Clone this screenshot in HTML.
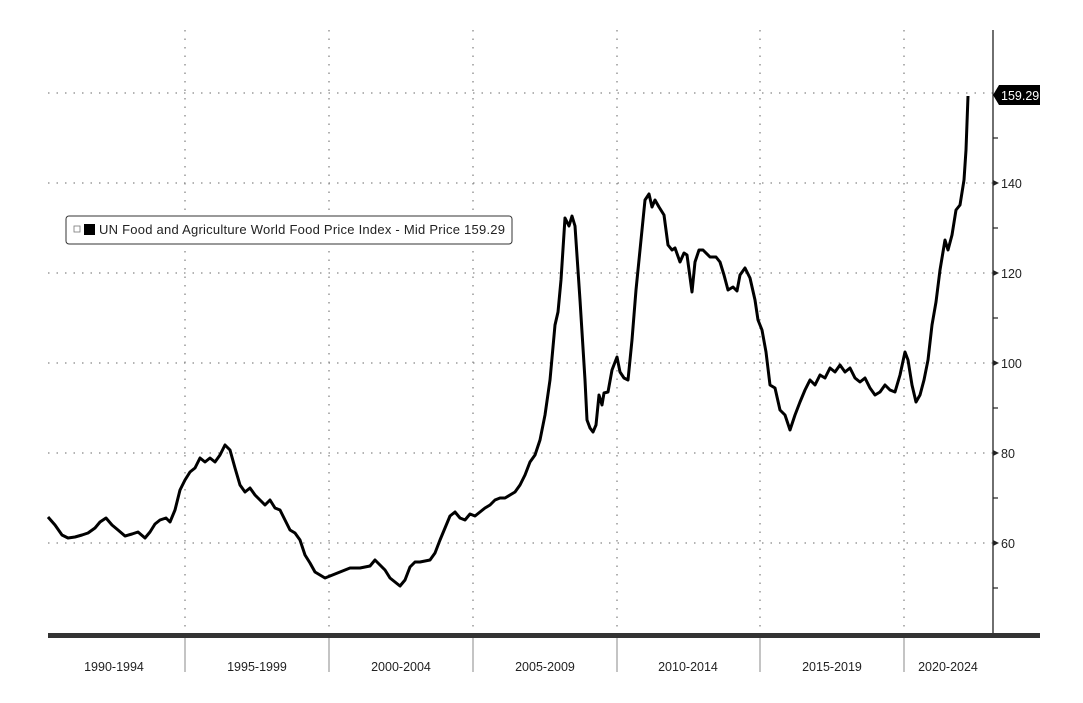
<!DOCTYPE html>
<html><head><meta charset="utf-8"><style>
html,body{margin:0;padding:0;background:#fff;}
svg{display:block;font-family:"Liberation Sans",sans-serif;}
</style></head><body>
<svg width="1083" height="703" viewBox="0 0 1083 703">
<rect width="1083" height="703" fill="#fff"/>
<g stroke="#888" stroke-width="1.3" stroke-dasharray="1.5,7" fill="none">
<line x1="48" y1="93" x2="993" y2="93"/>
<line x1="48" y1="183" x2="993" y2="183"/>
<line x1="48" y1="273" x2="993" y2="273"/>
<line x1="48" y1="363" x2="993" y2="363"/>
<line x1="48" y1="453" x2="993" y2="453"/>
<line x1="48" y1="543" x2="993" y2="543"/>
<line x1="185" y1="30" x2="185" y2="634"/>
<line x1="329" y1="30" x2="329" y2="634"/>
<line x1="473" y1="30" x2="473" y2="634"/>
<line x1="617" y1="30" x2="617" y2="634"/>
<line x1="760" y1="30" x2="760" y2="634"/>
<line x1="904" y1="30" x2="904" y2="634"/>
</g>
<line x1="993" y1="30" x2="993" y2="634" stroke="#222" stroke-width="1.3"/>
<g stroke="#222" stroke-width="1.2">
<line x1="993" y1="138" x2="998" y2="138"/><line x1="993" y1="228" x2="998" y2="228"/>
<line x1="993" y1="318" x2="998" y2="318"/><line x1="993" y1="408" x2="998" y2="408"/>
<line x1="993" y1="498" x2="998" y2="498"/><line x1="993" y1="588" x2="998" y2="588"/>
</g>
<g fill="#222"><polygon points="993,180 999,183 993,186"/><polygon points="993,270 999,273 993,276"/><polygon points="993,360 999,363 993,366"/><polygon points="993,450 999,453 993,456"/><polygon points="993,540 999,543 993,546"/></g>
<g font-size="12.5" fill="#222">
<text x="1001" y="188">140</text><text x="1001" y="278">120</text><text x="1001" y="368">100</text><text x="1001" y="458">80</text><text x="1001" y="548">60</text>
</g>
<polygon points="993,95 999,85 1040,85 1040,105 999,105" fill="#000"/>
<text x="1001" y="100" font-size="12.5" fill="#fff">159.29</text>
<rect x="48" y="633" width="992" height="5" fill="#333"/>
<g stroke="#888" stroke-width="1">
<line x1="185" y1="638" x2="185" y2="672"/><line x1="329" y1="638" x2="329" y2="672"/><line x1="473" y1="638" x2="473" y2="672"/><line x1="617" y1="638" x2="617" y2="672"/><line x1="760" y1="638" x2="760" y2="672"/><line x1="904" y1="638" x2="904" y2="672"/>
</g>
<g font-size="12.5" fill="#222" text-anchor="middle">
<text x="114" y="671">1990-1994</text><text x="257" y="671">1995-1999</text><text x="401" y="671">2000-2004</text><text x="545" y="671">2005-2009</text><text x="688" y="671">2010-2014</text><text x="832" y="671">2015-2019</text><text x="948" y="671">2020-2024</text>
</g>
<polyline fill="none" stroke="#000" stroke-width="3" stroke-linejoin="round" points="48,517 55,525 62,535 68,538 75,537 82,535 88,533 95,528 100,522 106,518 112,525 118,530 125,536 132,534 138,532 145,538 150,532 155,524 160,520 166,518 170,522 175,510 180,490 185,480 190,472 195,468 200,458 205,462 210,458 215,462 220,455 225,445 230,450 235,468 240,485 245,492 250,488 255,495 260,500 265,505 270,500 275,508 280,510 285,520 290,530 295,533 300,540 305,555 310,563 315,572 320,575 325,578 330,576 340,572 350,568 360,568 370,566 375,560 380,565 385,570 390,578 395,582 400,586 405,580 410,567 415,562 420,562 430,560 435,553 440,540 445,528 450,516 455,512 460,518 465,520 470,514 475,516 480,512 485,508 490,505 495,500 500,498 505,498 510,495 515,492 520,485 525,475 530,462 535,455 540,440 545,415 550,380 555,325 558,312 561,280 565,218 569,226 572,216 575,226 580,300 585,380 587,420 590,428 593,432 596,425 599,395 602,405 604,393 608,392 612,370 617,357 620,372 624,378 628,380 632,340 636,290 640,250 645,200 649,194 652,207 655,200 659,207 664,215 668,245 672,250 675,248 680,262 684,253 687,255 692,292 695,262 699,250 703,250 710,257 716,257 720,262 724,275 728,290 733,287 737,291 740,275 745,268 750,278 755,300 758,320 762,330 766,352 770,385 775,388 780,410 785,415 790,430 795,415 800,402 805,390 810,380 815,385 820,375 825,378 830,368 835,372 840,365 845,372 850,368 855,378 860,382 865,378 870,388 875,395 880,392 885,385 890,390 895,392 900,375 905,352 908,360 912,385 916,402 920,395 924,380 928,360 932,325 936,302 940,270 945,240 948,250 952,235 956,210 960,205 964,180 966,150 968,96"/>
<rect x="66" y="216" width="446" height="28" rx="3" fill="#fff" stroke="#333" stroke-width="1"/>
<rect x="74" y="226" width="6" height="6" fill="none" stroke="#777" stroke-width="0.8"/>
<rect x="84" y="224" width="11" height="11" fill="#000"/>
<text x="99" y="234" font-size="13" fill="#222" textLength="406" lengthAdjust="spacing">UN Food and Agriculture World Food Price Index - Mid Price 159.29</text>
</svg>
</body></html>
